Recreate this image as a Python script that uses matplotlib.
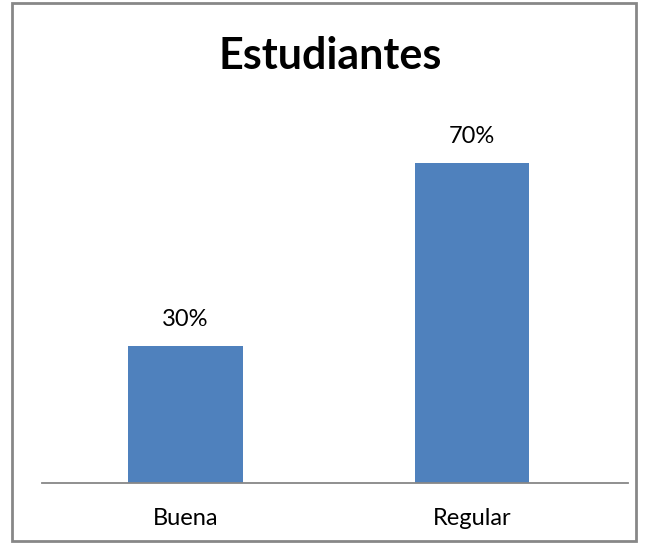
import matplotlib
matplotlib.use("Agg")
import matplotlib.pyplot as plt
from matplotlib.patches import Rectangle

categories = ["Buena", "Regular"]
values = [30, 70]
value_labels = ["30%", "70%"]

plt.rcParams['font.family'] = ['Lato', 'DejaVu Sans']

fig = plt.figure(figsize=(6.45, 5.44), dpi=100)
# outer chart border
fig.patches.append(Rectangle((12 / 645, 3 / 544), 624 / 645, 538 / 544,
                             transform=fig.transFigure, fill=False,
                             edgecolor="#878787", linewidth=2))

ax = fig.add_axes([42 / 645, 61 / 544, 586 / 645, 366 / 544])
x = range(len(categories))
bars = ax.bar(x, values, width=0.40, color="#4F81BD")
for b, lbl in zip(bars, value_labels):
    ax.annotate(lbl, (b.get_x() + b.get_width() / 2, b.get_height()),
                xytext=(0, 11), textcoords="offset points",
                ha="center", va="bottom", fontsize=17)

ax.set_xlim(-0.5, 1.545)
ax.set_ylim(0, 80)
ax.set_xticks(list(x))
ax.set_xticklabels(categories, fontsize=17)
ax.tick_params(axis="x", length=0, pad=18)
ax.set_yticks([])
for s in ["top", "left", "right"]:
    ax.spines[s].set_visible(False)
ax.spines["bottom"].set_color("#878787")
ax.spines["bottom"].set_linewidth(1.3)

fig.text(330 / 645, 1 - 56 / 544, "Estudiantes", ha="center", va="center",
         fontsize=31, fontweight="bold")

fig.savefig("out.png", dpi=100)
